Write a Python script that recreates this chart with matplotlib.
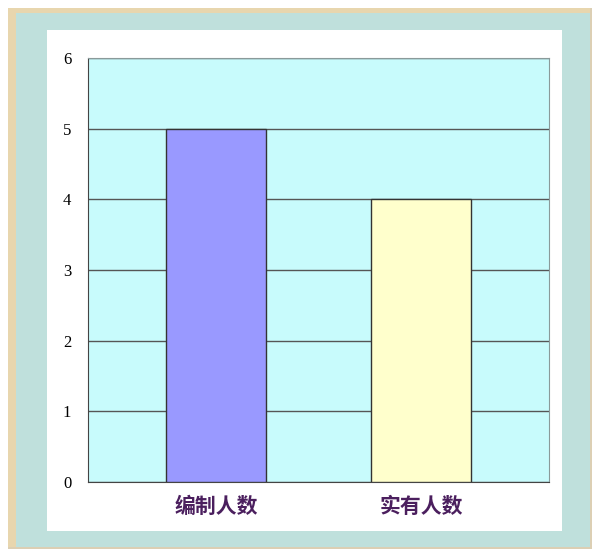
import matplotlib.pyplot as plt
from matplotlib.patches import Rectangle
import numpy as np

categories = ['编制人数', '实有人数']
values = [5, 4]
bar_colors = ['#9999ff', '#ffffcc']
yticks = [0, 1, 2, 3, 4, 5, 6]

W, H = 595, 550
fig = plt.figure(figsize=(W / 100, H / 100), dpi=100)

def px_rect(x0, y0, x1, y1, color, z):
    # rectangle given in pixel coords from top-left
    fig.patches.append(Rectangle((x0 / W, 1 - y1 / H), (x1 - x0) / W, (y1 - y0) / H,
                                 transform=fig.transFigure, facecolor=color,
                                 edgecolor='none', zorder=z))

# frame: tan border, teal mat, white panel (kept under the axes)
px_rect(8, 8, 592, 549, '#dccfb4', -4)
px_rect(8, 8, 590, 547, '#e8d6ae', -3)
px_rect(16, 13, 590, 547, '#bfe0dc', -2)
px_rect(47, 30, 562, 531, '#ffffff', -1)

ax = fig.add_axes([88 / W, 1 - 482 / H, (549 - 88) / W, (482 - 58) / H])
ax.set_facecolor('#c8fbfc')

x = np.arange(len(categories))
ax.bar(x, values, width=0.49, color=bar_colors, edgecolor='#333333', linewidth=1, zorder=3)

ax.set_xlim(-0.625, 1.625)
ax.set_ylim(0, 6)
ax.set_yticks(yticks)
ax.set_yticklabels([str(v) for v in yticks], family='Liberation Serif', fontsize=12)
ax.set_xticks(x)
ax.set_xticklabels(categories, family=['Noto Sans CJK SC', 'DejaVu Sans'],
                   fontsize=15, color='#4b1f5e', fontweight='bold')
ax.tick_params(axis='y', length=0, pad=12)
ax.tick_params(axis='x', length=0, pad=10)
ax.yaxis.grid(True, color='#555555', linewidth=1, zorder=1)
ax.set_axisbelow(True)
for side in ['top', 'right']:
    ax.spines[side].set_color('#8a9a9a')
for side in ['left', 'bottom']:
    ax.spines[side].set_color('#444444')

fig.savefig('out.png', dpi=100)
